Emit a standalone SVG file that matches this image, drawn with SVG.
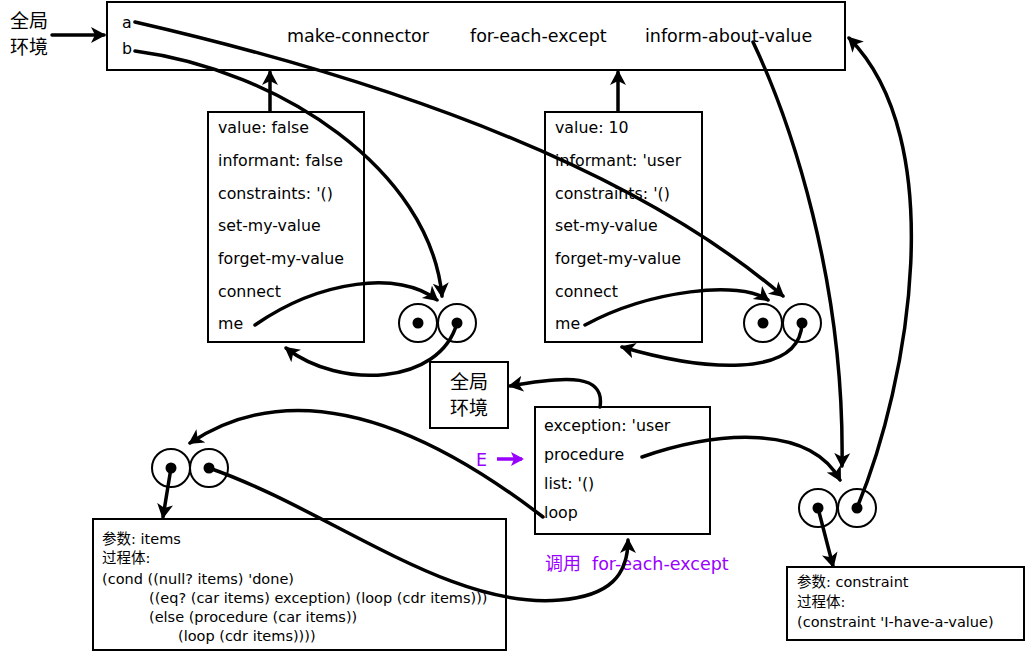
<svg xmlns="http://www.w3.org/2000/svg" width="1026" height="654" viewBox="0 0 1026 654">
<style>
.box{fill:#fff;stroke:#000;stroke-width:2}
.h{font-family:"DejaVu Sans","Noto Sans CJK SC",sans-serif;font-size:17.5px;fill:#000}
.t{font-family:"DejaVu Sans","Noto Sans CJK SC",sans-serif;font-size:15.8px;fill:#000}
.c{font-family:"DejaVu Sans","Noto Sans CJK SC",sans-serif;font-size:14.5px;fill:#000}
.cj{font-family:"Noto Sans CJK SC",sans-serif;font-size:19px;fill:#000}
.p{fill:#9900ff}
.ring{fill:#fff;stroke:#000;stroke-width:2}
.dot{fill:#000}
.ln{fill:none;stroke:#000;stroke-width:3.5;stroke-linecap:round}
.ar{marker-end:url(#ah)}
</style>
<defs>
<marker id="ah" markerUnits="userSpaceOnUse" markerWidth="20" markerHeight="18" refX="13" refY="8" orient="auto" viewBox="0 0 20 16">
<path d="M0,0 L15,8 L0,16 L4,8 z" fill="#000"/>
</marker>
<marker id="ahp" markerUnits="userSpaceOnUse" markerWidth="16" markerHeight="16" refX="11" refY="7" orient="auto" viewBox="0 0 16 14">
<path d="M0,0 L13,7 L0,14 L3,7 z" fill="#9900ff"/>
</marker>
</defs>

<g id="global-env">
<rect class="box" x="107" y="2" width="738" height="68"/>
<text class="t" x="122" y="28">a</text>
<text class="t" x="122" y="54">b</text>
<text class="h" x="287" y="42">make-connector</text>
<text class="h" x="470" y="42">for-each-except</text>
<text class="h" x="645" y="42">inform-about-value</text>
</g>

<g id="global-label">
<text class="cj" x="10" y="28">全局</text>
<text class="cj" x="10" y="54">环境</text>
</g>

<g id="frame-a">
<rect class="box" x="208" y="112" width="156" height="230"/>
<text class="t" x="218" y="133">value: false</text>
<text class="t" x="218" y="166">informant: false</text>
<text class="t" x="218" y="199">constraints: '()</text>
<text class="t" x="218" y="231">set-my-value</text>
<text class="t" x="218" y="264">forget-my-value</text>
<text class="t" x="218" y="297">connect</text>
<text class="t" x="218" y="329">me</text>
</g>

<g id="frame-b">
<rect class="box" x="545" y="112" width="157" height="230"/>
<text class="t" x="555" y="133">value: 10</text>
<text class="t" x="555" y="166">informant: 'user</text>
<text class="t" x="555" y="199">constraints: '()</text>
<text class="t" x="555" y="231">set-my-value</text>
<text class="t" x="555" y="264">forget-my-value</text>
<text class="t" x="555" y="297">connect</text>
<text class="t" x="555" y="329">me</text>
</g>

<g id="proc-a">
<circle class="ring" cx="418" cy="323" r="19"/>
<circle class="ring" cx="457" cy="323" r="19"/>
<circle class="dot" cx="418" cy="323" r="5.5"/>
<circle class="dot" cx="457" cy="323" r="5.5"/>
</g>

<g id="proc-b">
<circle class="ring" cx="763" cy="323" r="19"/>
<circle class="ring" cx="802" cy="323" r="19"/>
<circle class="dot" cx="763" cy="323" r="5.5"/>
<circle class="dot" cx="802" cy="323" r="5.5"/>
</g>

<g id="global-small">
<rect class="box" x="430" y="362" width="78" height="66"/>
<text class="cj" x="450" y="389">全局</text>
<text class="cj" x="450" y="415">环境</text>
</g>

<g id="frame-e">
<rect class="box" x="535" y="407" width="175" height="127"/>
<text class="t" x="544" y="431">exception: 'user</text>
<text class="t" x="544" y="460">procedure</text>
<text class="t" x="544" y="489">list: '()</text>
<text class="t" x="544" y="518">loop</text>
</g>

<g id="label-e">
<text class="h p" x="476" y="466">E</text>
<path d="M497,459 L522,459" fill="none" stroke="#9900ff" stroke-width="3.5" marker-end="url(#ahp)"/>
</g>

<g id="label-call">
<text class="cj p" x="545" y="570" style="font-size:18px">调用</text>
<text class="h p" x="592" y="570">for-each-except</text>
</g>

<g id="proc-loop">
<circle class="ring" cx="171" cy="468" r="19"/>
<circle class="ring" cx="209" cy="468" r="19"/>
<circle class="dot" cx="171" cy="468" r="5.5"/>
<circle class="dot" cx="209" cy="468" r="5.5"/>
</g>

<g id="proc-constraint">
<circle class="ring" cx="818" cy="508" r="19"/>
<circle class="ring" cx="857" cy="508" r="19"/>
<circle class="dot" cx="818" cy="508" r="5.5"/>
<circle class="dot" cx="857" cy="508" r="5.5"/>
</g>

<g id="body-loop">
<rect class="box" x="93" y="519" width="413" height="131"/>
<text class="c" x="102" y="544">参数: items</text>
<text class="c" x="102" y="563">过程体:</text>
<text class="c" x="102" y="584">(cond ((null? items) 'done)</text>
<text class="c" x="149" y="603">((eq? (car items) exception) (loop (cdr items)))</text>
<text class="c" x="149" y="622">(else (procedure (car items))</text>
<text class="c" x="178" y="641">(loop (cdr items))))</text>
</g>

<g id="body-constraint">
<rect class="box" x="787" y="567" width="237" height="73"/>
<text class="c" x="797" y="587">参数: constraint</text>
<text class="c" x="797" y="607">过程体:</text>
<text class="c" x="797" y="627">(constraint 'I-have-a-value)</text>
</g>

<g id="connectors">
<path class="ln ar" d="M52,35 L104,35"/>
<path class="ln ar" d="M270,111 L270,72"/>
<path class="ln ar" d="M618,111 L618,72"/>
<path class="ln ar" d="M135,22 C300,60 600,140 783,296"/>
<path class="ln ar" d="M135,51 C280,70 430,170 442,296"/>
<path class="ln ar" d="M255,325 C320,280 400,270 437,300"/>
<path class="ln ar" d="M457,323 C440,385 340,390 286,348"/>
<path class="ln ar" d="M585,325 C650,290 740,280 768,300"/>
<path class="ln ar" d="M802,323 C800,380 700,370 622,347"/>
<path class="ln ar" d="M753,42 C790,120 845,280 842,466"/>
<path class="ln ar" d="M857,508 C910,380 950,140 849,38"/>
<path class="ln ar" d="M642,457 C720,430 810,425 840,480"/>
<path class="ln ar" d="M818,508 L833,566"/>
<path class="ln ar" d="M600,407 C605,375 570,375 510,386"/>
<path class="ln ar" d="M543,517 C430,430 300,370 190,443"/>
<path class="ln ar" d="M209,468 C330,510 450,610 560,600 C610,596 628,575 628,540"/>
<path class="ln ar" d="M171,468 L163,517"/>
</g>
</svg>
